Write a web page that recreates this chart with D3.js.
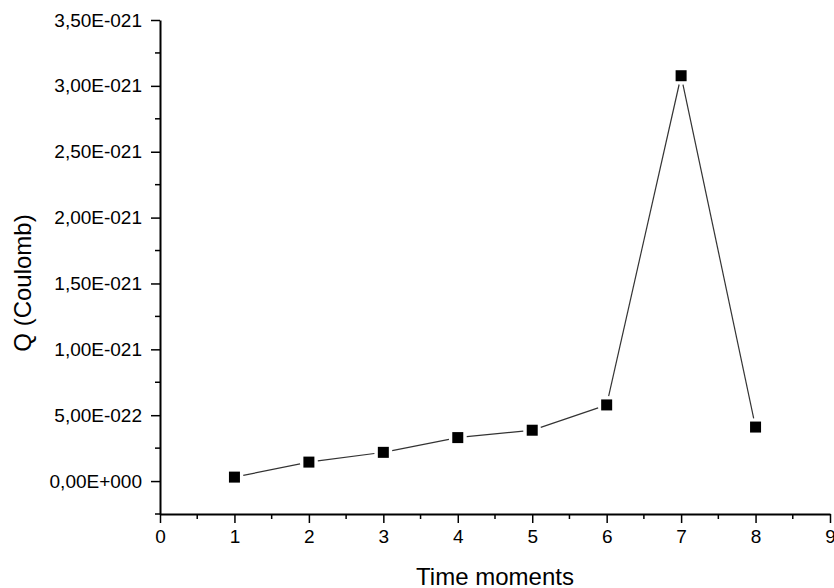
<!DOCTYPE html>
<html>
<head>
<meta charset="utf-8">
<script src="https://cdn.jsdelivr.net/npm/d3@7"></script>
<style>
  body { margin: 0; background: #fff; }
  svg text { font-family: "Liberation Sans", Arial, sans-serif; fill: #000; }
</style>
</head>
<body>
<div class="chart"></div>
<script>
// data
const moments = [1, 2, 3, 4, 5, 6, 7, 8];
const charge = [0.030e-21, 0.144e-21, 0.218e-21, 0.330e-21, 0.386e-21, 0.578e-21, 3.077e-21, 0.410e-21];
const xTicks = [0, 1, 2, 3, 4, 5, 6, 7, 8, 9];
const yTicks = [0, 0.5e-21, 1.0e-21, 1.5e-21, 2.0e-21, 2.5e-21, 3.0e-21, 3.5e-21];
const yTickLabels = ["0,00E+000", "5,00E-022", "1,00E-021", "1,50E-021", "2,00E-021", "2,50E-021", "3,00E-021", "3,50E-021"];

const width = 834, height = 588;
const margin = { top: 20, right: 4, bottom: 74, left: 160 };

const svg = d3.select(".chart")
    .append("svg")
    .attr("width", width)
    .attr("height", height);

const x = d3.scaleLinear()
    .domain([0, 9])
    .range([margin.left, width - margin.right]);

const y = d3.scaleLinear()
    .domain([-0.25e-21, 3.5e-21])
    .range([height - margin.bottom, margin.top]);

// x axis
const xAxis = svg.append("g")
    .attr("transform", `translate(0,${height - margin.bottom})`)
    .call(d3.axisBottom(x).tickValues(xTicks).tickFormat(d3.format("d")).tickSize(9).tickPadding(7).tickSizeOuter(0));
xAxis.select(".domain").attr("stroke-width", 2);
xAxis.selectAll(".tick line").attr("stroke-width", 1.5);
xAxis.selectAll("text").style("font-size", "19px");

// x minor ticks
svg.append("g")
    .selectAll("line")
    .data(d3.range(0.5, 9, 1))
    .enter().append("line")
    .attr("x1", d => x(d))
    .attr("x2", d => x(d))
    .attr("y1", height - margin.bottom)
    .attr("y2", height - margin.bottom + 5)
    .attr("stroke", "#000")
    .attr("stroke-width", 1.5);

// y axis
const yAxis = svg.append("g")
    .attr("transform", `translate(${margin.left},0)`)
    .call(d3.axisLeft(y).tickValues(yTicks).tickFormat((d, i) => yTickLabels[i]).tickSize(9).tickPadding(9).tickSizeOuter(0));
yAxis.select(".domain").attr("stroke-width", 2);
yAxis.selectAll(".tick line").attr("stroke-width", 1.5);
yAxis.selectAll("text").style("font-size", "19px");

// y minor ticks
svg.append("g")
    .selectAll("line")
    .data(d3.range(-0.25e-21, 3.5e-21, 0.5e-21))
    .enter().append("line")
    .attr("x1", margin.left - 5)
    .attr("x2", margin.left)
    .attr("y1", d => y(d))
    .attr("y2", d => y(d))
    .attr("stroke", "#000")
    .attr("stroke-width", 1.5);

// connecting line, trimmed near the markers
const pts = moments.map((m, i) => [x(m), y(charge[i])]);
const gap = 9;
const segs = d3.pairs(pts).map(([a, b]) => {
    const dx = b[0] - a[0], dy = b[1] - a[1];
    const len = Math.hypot(dx, dy);
    const ux = dx / len, uy = dy / len;
    return [a[0] + ux * gap, a[1] + uy * gap, b[0] - ux * gap, b[1] - uy * gap];
});
svg.append("g")
    .selectAll("line")
    .data(segs)
    .enter().append("line")
    .attr("x1", d => d[0])
    .attr("y1", d => d[1])
    .attr("x2", d => d[2])
    .attr("y2", d => d[3])
    .attr("stroke", "#333")
    .attr("stroke-width", 1.2);

// square markers
const size = 11;
svg.append("g")
    .selectAll("rect")
    .data(moments)
    .enter().append("rect")
    .attr("x", (d, i) => x(d) - size / 2)
    .attr("y", (d, i) => y(charge[i]) - size / 2)
    .attr("width", size)
    .attr("height", size)
    .attr("fill", "#000");

// axis titles
svg.append("text")
    .attr("x", (margin.left + width - margin.right) / 2)
    .attr("y", 585)
    .attr("text-anchor", "middle")
    .style("font-size", "24px")
    .text("Time moments");

svg.append("text")
    .attr("transform", `translate(31,283) rotate(-90)`)
    .attr("text-anchor", "middle")
    .style("font-size", "24px")
    .text("Q (Coulomb)");
</script>
</body>
</html>
